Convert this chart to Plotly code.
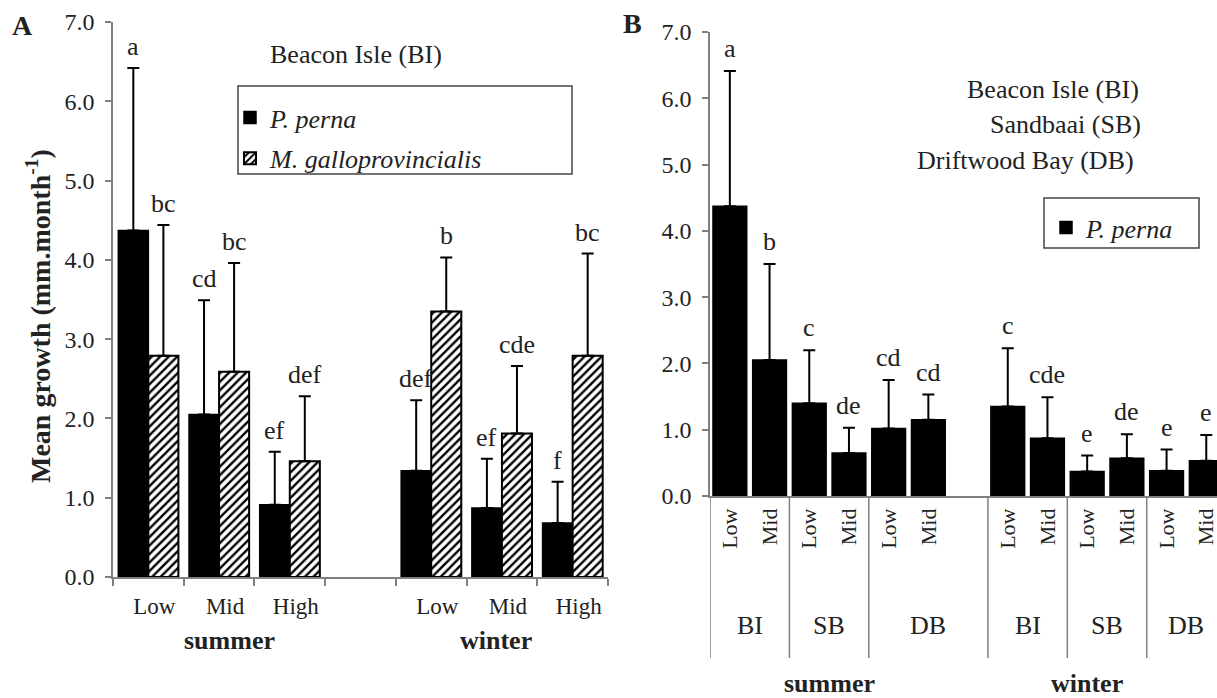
import plotly.graph_objects as go

# ---------------- data ----------------
A_levels = ["Low", "Mid", "High"]
A_seasons = ["summer", "winter"]
A_perna_mean = [4.37, 2.05, 0.91, 1.34, 0.87, 0.68]
A_perna_upper = [6.42, 3.49, 1.58, 2.23, 1.49, 1.20]
A_gallo_mean = [2.79, 2.59, 1.46, 3.35, 1.81, 2.79]
A_gallo_upper = [4.44, 3.96, 2.28, 4.03, 2.66, 4.08]
A_perna_letters = ["a", "cd", "ef", "def", "ef", "f"]
A_gallo_letters = ["bc", "bc", "def", "b", "cde", "bc"]

B_seasons = ["summer", "winter"]
B_sites = ["BI", "SB", "DB"]
B_levels = ["Low", "Mid"]
B_mean = [4.37, 2.05, 1.40, 0.65, 1.02, 1.15, 1.35, 0.87, 0.37, 0.57, 0.38, 0.53]
B_upper = [6.41, 3.50, 2.20, 1.03, 1.75, 1.53, 2.23, 1.49, 0.61, 0.93, 0.70, 0.92]
B_letters = ["a", "b", "c", "de", "cd", "cd", "c", "cde", "e", "de", "e", "e"]

# ---------------- layout helpers ----------------
W, H = 1217, 698
FONT = "Liberation Serif"
GRAY = "#808080"
TXT = "#222222"
BARGAP = 0.15


def px(x):
    return x / W


def py(y):
    return 1 - y / H


def f(size):
    return dict(family=FONT, size=size, color=TXT)


# slot positions (one empty slot between seasons)
nA = len(A_levels)
A_x = [s * (nA + 1) + j for s in range(len(A_seasons)) for j in range(nA)]
A_ticktext = [lv for s in A_seasons for lv in A_levels]
nB = len(B_sites) * len(B_levels)
B_x = [s * (nB + 1) + j for s in range(len(B_seasons)) for j in range(nB)]
B_ticktext = [lv for s in B_seasons for site in B_sites for lv in B_levels]


def err(upper, mean):
    return dict(type="data", symmetric=False,
                array=[u - m for u, m in zip(upper, mean)],
                arrayminus=[0] * len(mean),
                color="black", thickness=2, width=6)


fig = go.Figure()
fig.add_trace(go.Bar(
    x=A_x, y=A_perna_mean, name="<i>P. perna</i>",
    marker=dict(color="black", line=dict(color="black", width=1.5)),
    error_y=err(A_perna_upper, A_perna_mean),
    xaxis="x", yaxis="y", legend="legend", legendgroup="a1",
))
fig.add_trace(go.Bar(
    x=A_x, y=A_gallo_mean, name="<i>M. galloprovincialis</i>",
    marker=dict(color="white", line=dict(color="black", width=2),
                pattern=dict(shape="/", fgcolor="black", bgcolor="white",
                             size=6, solidity=0.4)),
    error_y=err(A_gallo_upper, A_gallo_mean),
    xaxis="x", yaxis="y", legend="legend", legendgroup="a2",
))
fig.add_trace(go.Bar(
    x=B_x, y=B_mean, name="<i>P. perna</i>",
    marker=dict(color="black", line=dict(color="black", width=1.5)),
    error_y=err(B_upper, B_mean),
    xaxis="x2", yaxis="y2", legend="legend2",
))


def A_(**kw):
    d = dict(showarrow=False, xanchor="center", yanchor="middle")
    d.update(kw)
    return d


ann = []
half = (1 - BARGAP) / 4
for xi, u, t in zip(A_x, A_perna_upper, A_perna_letters):
    ann.append(A_(x=xi - half, y=u, xref="x", yref="y", text=t,
                  yanchor="bottom", yshift=5, font=f(26)))
for xi, u, t in zip(A_x, A_gallo_upper, A_gallo_letters):
    ann.append(A_(x=xi + half, y=u, xref="x", yref="y", text=t,
                  yanchor="bottom", yshift=5, font=f(26)))
for xi, u, t in zip(B_x, B_upper, B_letters):
    ann.append(A_(x=xi, y=u, xref="x2", yref="y2", text=t,
                  yanchor="bottom", yshift=6, font=f(26)))

# panel texts
ann += [
    A_(x=px(22), y=py(25), xref="paper", yref="paper", text="<b>A</b>", font=f(28)),
    A_(x=px(632), y=py(23), xref="paper", yref="paper", text="<b>B</b>", font=f(28)),
    A_(x=px(268), y=py(55), xref="paper", yref="paper", text="Beacon Isle (BI)",
       xanchor="left", font=f(26)),
    A_(x=px(1141), y=py(90), xref="paper", yref="paper", text="Beacon Isle (BI)",
       xanchor="right", font=f(26)),
    A_(x=px(1143), y=py(125), xref="paper", yref="paper", text="Sandbaai (SB)",
       xanchor="right", font=f(26)),
    A_(x=px(1136), y=py(160), xref="paper", yref="paper", text="Driftwood Bay (DB)",
       xanchor="right", font=f(26)),
    A_(x=px(38), y=py(316), xref="paper", yref="paper",
       text="<b>Mean growth (mm.month<sup>-1</sup>)</b>", textangle=-90, font=f(28)),
]
# season labels panel A
for s, xc in zip(A_seasons, [1.15, 4.92]):
    ann.append(A_(x=xc, y=py(640), xref="x", yref="paper", text=f"<b>{s}</b>",
                  font=f(26)))
# site + season labels panel B
for s_i, s in enumerate(B_seasons):
    base = s_i * (nB + 1)
    for k, site in enumerate(B_sites):
        c = base + k * 2 + 0.5
        if site == "DB" and s_i == 0:
            c = base + k * 2 + 1.0
        ann.append(A_(x=c, y=py(625), xref="x2", yref="paper", text=site, font=f(26)))
for s, xc in zip(B_seasons, [2.5, 9.0]):
    ann.append(A_(x=xc, y=py(683), xref="x2", yref="paper", text=f"<b>{s}</b>",
                  font=f(26)))

shapes = [
    dict(type="rect", xref="paper", yref="paper", x0=px(238), x1=px(572),
         y0=py(86), y1=py(174), line=dict(color="#444", width=1.5)),
    dict(type="rect", xref="paper", yref="paper", x0=px(1044), x1=px(1199),
         y0=py(198), y1=py(248), line=dict(color="#444", width=1.5)),
]
for b in [-0.5, 1.5, 3.5, 6.5, 8.5, 10.5]:
    shapes.append(dict(type="line", xref="x2", yref="paper", x0=b, x1=b,
                       y0=py(496), y1=py(658), line=dict(color=GRAY, width=1.5)))

axis_common = dict(showline=True, linecolor=GRAY, linewidth=1.5, showgrid=False,
                   zeroline=False, automargin=False)
fig.update_layout(
    template="none",
    width=W, height=H, margin=dict(l=0, r=0, t=0, b=0, autoexpand=False),
    paper_bgcolor="white", plot_bgcolor="white",
    font=f(22),
    barmode="group", bargap=BARGAP, bargroupgap=0,
    xaxis=dict(domain=[px(113), px(608)], range=[-0.5, 6.5], anchor="y",
               tickvals=A_x, ticktext=A_ticktext, ticks="",
               tickfont=f(23), ticklabelshift=6, ticklabelstandoff=8,
               minor=dict(tickvals=[i - 0.5 for i in range(8)], ticks="outside",
                          ticklen=7, tickcolor=GRAY, tickwidth=1.5),
               **axis_common),
    yaxis=dict(domain=[py(577), py(22)], range=[0, 7], anchor="x",
               tickvals=list(range(8)), tickformat=".1f", ticks="outside",
               ticklen=6, tickcolor=GRAY, tickwidth=1.5, tickfont=f(24),
               ticklabelstandoff=6, **axis_common),
    xaxis2=dict(domain=[px(710), 1.0], range=[-0.5, 12.27], anchor="y2",
                tickvals=B_x, ticktext=B_ticktext, ticks="", tickangle=-90,
                tickfont=f(22), ticklabelstandoff=2, ticklabeloverflow="allow",
                **axis_common),
    yaxis2=dict(domain=[py(496), py(32)], range=[0, 7], anchor="x2",
                tickvals=list(range(8)), tickformat=".1f", ticks="outside",
                ticklen=6, tickcolor=GRAY, tickwidth=1.5, tickfont=f(24),
                ticklabelstandoff=6, **axis_common),
    legend=dict(x=px(230), y=py(94), xanchor="left", yanchor="top",
                bgcolor="rgba(0,0,0,0)", borderwidth=0, font=f(26),
                traceorder="grouped", tracegroupgap=4, itemwidth=30),
    legend2=dict(x=px(1046), y=py(204), xanchor="left", yanchor="top",
                 bgcolor="rgba(0,0,0,0)", borderwidth=0, font=f(26),
                 itemwidth=30),
    annotations=ann, shapes=shapes,
)

fig.write_html(
    "out.html",
    config={"displayModeBar": False},
    post_script="document.body.style.margin='0';document.body.style.overflow='hidden';",
)
